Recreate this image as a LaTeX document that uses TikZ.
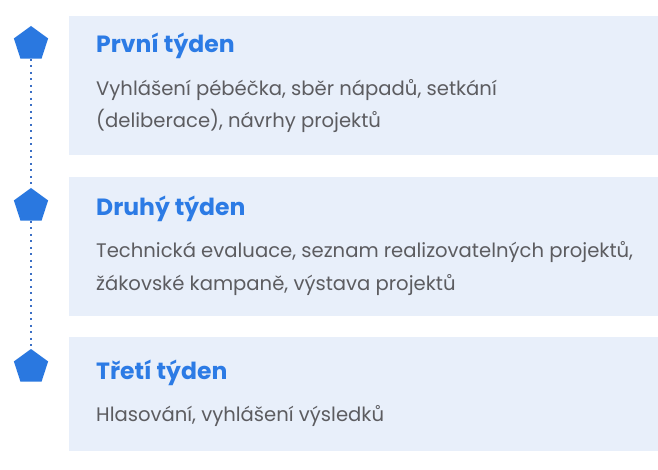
\documentclass[tikz,border=0pt]{standalone}
\usepackage{fontspec}
\setmainfont{Poppins}
\usetikzlibrary{shapes.geometric}
\definecolor{boxfill}{HTML}{E8EFFA}
\definecolor{titleblue}{HTML}{2C7BE5}
\definecolor{pentblue}{HTML}{2A78E0}
\definecolor{dotblue}{HTML}{3B6FC5}
\definecolor{bodygray}{HTML}{5C5C60}
\tikzset{
  card/.style={fill=boxfill, draw=none},
  pent/.style={regular polygon, regular polygon sides=5, fill=pentblue, draw=none, inner sep=0pt, minimum size=36pt},
  ttl/.style={anchor=base west, inner sep=0pt, text=titleblue, font=\fontsize{23.5}{28}\selectfont\bfseries},
  bodyline/.style={anchor=base west, inner sep=0pt, text=bodygray, font=\fontsize{19.6}{24}\selectfont},
  dotline/.style={draw=dotblue, line width=2pt, dash pattern=on 2pt off 4.5pt}
}
\begin{document}
\begin{tikzpicture}[x=1pt,y=-1pt]
\useasboundingbox (0,0) rectangle (658,470);
\fill[white] (0,0) rectangle (658,470);
% cards
\path[card] (69,16) rectangle (658,155);
\path[card] (69,177) rectangle (658,316);
\path[card] (69,337) rectangle (658,451);
% pentagons
\node[pent] (p1) at (31,44) {};
\node[pent] (p2) at (31,206) {};
\node[pent] (p3) at (31,367) {};
\draw[dotline] (p1.south) -- (p2.north);
\draw[dotline] (p2.south) -- (p3.north);
% texts
\node[ttl] (t1) at (96,53) {První týden};
\node[bodyline] (b1a) at (96,96) {Vyhlášení pébéčka, sběr nápadů, setkání};
\node[bodyline] (b1b) at (96,128) {(deliberace), návrhy projektů};
\node[ttl] (t2) at (96,216) {Druhý týden};
\node[bodyline] (b2a) at (96,258) {Technická evaluace, seznam realizovatelných projektů,};
\node[bodyline] (b2b) at (96,290) {žákovské kampaně, výstava projektů};
\node[ttl] (t3) at (96,379) {Třetí týden};
\node[bodyline] (b3a) at (96,421) {Hlasování, vyhlášení výsledků};
\end{tikzpicture}
\end{document}
